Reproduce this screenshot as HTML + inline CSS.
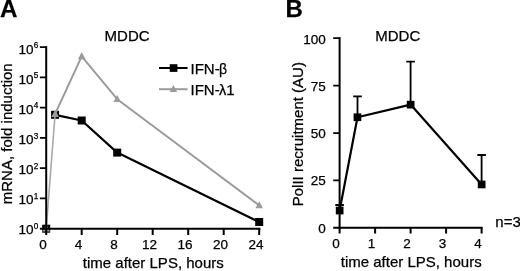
<!DOCTYPE html>
<html>
<head>
<meta charset="utf-8">
<title>Figure</title>
<style>
html,body{margin:0;padding:0;background:#fff;}
svg{display:block;}
text{font-family:"Liberation Sans",sans-serif;fill:#000;stroke:#000;stroke-width:0.25px;}
</style>
</head>
<body>
<svg width="520" height="271" viewBox="0 0 520 271">
<rect x="0" y="0" width="520" height="271" fill="#fff"/>

<!-- Panel A -->
<text x="0.1" y="16.6" font-size="24.2" font-weight="bold">A</text>
<text x="127.1" y="40.8" font-size="15" text-anchor="middle">MDDC</text>
<g font-size="13.5" text-anchor="end">
<text x="33.6" y="234.2">10</text><text x="38.2" y="228.9" font-size="8.2">0</text>
<text x="33.6" y="204.1">10</text><text x="38.2" y="198.8" font-size="8.2">1</text>
<text x="33.6" y="174.0">10</text><text x="38.2" y="168.7" font-size="8.2">2</text>
<text x="33.6" y="143.8">10</text><text x="38.2" y="138.5" font-size="8.2">3</text>
<text x="33.6" y="113.7">10</text><text x="38.2" y="108.4" font-size="8.2">4</text>
<text x="33.6" y="83.6">10</text><text x="38.2" y="78.3" font-size="8.2">5</text>
<text x="33.6" y="53.5">10</text><text x="38.2" y="48.2" font-size="8.2">6</text>
</g>
<g font-size="13.5" text-anchor="middle">
<text x="43.0" y="249.2">0</text>
<text x="78.5" y="249.2">4</text>
<text x="114.0" y="249.2">8</text>
<text x="149.5" y="249.2">12</text>
<text x="185.0" y="249.2">16</text>
<text x="220.5" y="249.2">20</text>
<text x="256.0" y="249.2">24</text>
</g>
<text x="153.3" y="268.3" font-size="15" text-anchor="middle">time after LPS, hours</text>
<text transform="translate(11.9,133.8) rotate(-90)" font-size="15" text-anchor="middle">mRNA, fold induction</text>
<g stroke="#000" fill="#000">
<polyline points="55.1,114.8 81.7,120.5 117.2,152.6 259.2,222.0" fill="none" stroke-width="2.2" stroke-linejoin="round"/>
<g stroke="none">
<rect x="42.2" y="224.7" width="8" height="8"/>
<rect x="51.1" y="110.8" width="8" height="8"/>
<rect x="77.7" y="116.5" width="8" height="8"/>
<rect x="113.2" y="148.6" width="8" height="8"/>
<rect x="255.2" y="218.0" width="8" height="8"/>
</g></g>
<g stroke="#9b9b9b" fill="#9b9b9b">
<polyline points="46.2,228.7 55.1,114.0" fill="none" stroke="#a9a9a9" stroke-width="1.6"/>
<polyline points="55.1,114.0 81.7,56.3 117.2,99.2 259.2,205.4" fill="none" stroke-width="1.95" stroke-linejoin="round"/>
<g stroke="none">
<path d="M46.2,224.5 L50.0,231.6 H42.4z"/>
<path d="M55.1,109.8 L58.9,116.9 H51.3z"/>
<path d="M81.7,52.1 L85.5,59.2 H77.9z"/>
<path d="M117.2,95.0 L121.0,102.1 H113.4z"/>
<path d="M259.2,201.2 L263.0,208.3 H255.4z"/>
</g></g>
<g stroke="#000" stroke-width="2" fill="none">
<path d="M46.2,46.2 V229.7"/>
<path d="M39.9,228.7 H260.4"/>
<path d="M39.9,198.4 H46.2 M39.9,168.2 H46.2 M39.9,137.9 H46.2 M39.9,107.7 H46.2 M39.9,77.4 H46.2 M39.9,47.2 H46.2" stroke-width="1.75"/>
<path d="M46.2,228.7 V234.9 M81.7,228.7 V234.9 M117.2,228.7 V234.9 M152.7,228.7 V234.9 M188.2,228.7 V234.9 M223.7,228.7 V234.9 M259.2,228.7 V234.9"/>
</g>
<path d="M159,68 H187.6" stroke="#000" stroke-width="2"/>
<g fill="#000"><rect x="169.7" y="64.2" width="7.7" height="7.7"/></g>
<text x="190.5" y="73.9" font-size="15">IFN-<tspan font-size="14" dx="-0.6">β</tspan></text>
<path d="M159,89.2 H187.6" stroke="#9b9b9b" stroke-width="2"/>
<g fill="#9b9b9b"><path d="M173.4,85.0 L177.2,92.1 H169.6z"/></g>
<text x="190.5" y="95.0" font-size="15">IFN-<tspan font-size="14.5" dx="-0.6">λ</tspan>1</text>
<!-- Panel B -->
<text x="285.4" y="16.7" font-size="24" font-weight="bold">B</text>
<text x="397.8" y="40.6" font-size="15" text-anchor="middle">MDDC</text>
<g stroke="#000" stroke-width="2" fill="none">
<path d="M339.6,37.1 V228.8"/>
<path d="M333.2,227.8 H482.6"/>
<path d="M333.2,180.4 H339.6 M333.2,133.0 H339.6 M333.2,85.5 H339.6 M333.2,38.1 H339.6" stroke-width="1.75"/>
<path d="M339.6,227.8 V233.6 M375.1,227.8 V233.6 M410.6,227.8 V233.6 M446.1,227.8 V233.6 M481.6,227.8 V233.6"/>
</g>
<g font-size="13.5" text-anchor="end">
<text x="325.8" y="232.5">0</text>
<text x="325.8" y="185.3">25</text>
<text x="325.8" y="138.1">50</text>
<text x="325.8" y="90.8">75</text>
<text x="325.8" y="43.6">100</text>
</g>
<g font-size="13.5" text-anchor="middle">
<text x="336.1" y="248.4">0</text>
<text x="371.6" y="248.4">1</text>
<text x="407.1" y="248.4">2</text>
<text x="442.6" y="248.4">3</text>
<text x="478.1" y="248.4">4</text>
</g>
<text x="411.2" y="267.2" font-size="15" text-anchor="middle">time after LPS, hours</text>
<text transform="translate(302.6,134.2) rotate(-90)" font-size="15" text-anchor="middle">PolII recruitment (AU)</text>
<text x="495.3" y="227.4" font-size="15">n=3</text>
<g stroke="#000" stroke-width="1.8" fill="none">
<path d="M339.6,210.5 V205.0 M335.3,205.0 H343.9"/>
<path d="M357.5,117.2 V96.4 M353.2,96.4 H361.8"/>
<path d="M410.6,104.6 V61.6 M406.3,61.6 H414.9"/>
<path d="M481.6,184.4 V155.0 M477.3,155.0 H485.9"/>
</g>
<g stroke="#000" fill="#000">
<polyline points="339.6,210.5 357.5,117.2 410.6,104.6 481.6,184.4" fill="none" stroke-width="2.2" stroke-linejoin="round"/>
<g stroke="none">
<rect x="335.8" y="206.7" width="7.7" height="7.7"/>
<rect x="353.6" y="113.4" width="7.7" height="7.7"/>
<rect x="406.8" y="100.8" width="7.7" height="7.7"/>
<rect x="477.8" y="180.6" width="7.7" height="7.7"/>
</g></g>
</svg>
</body>
</html>
